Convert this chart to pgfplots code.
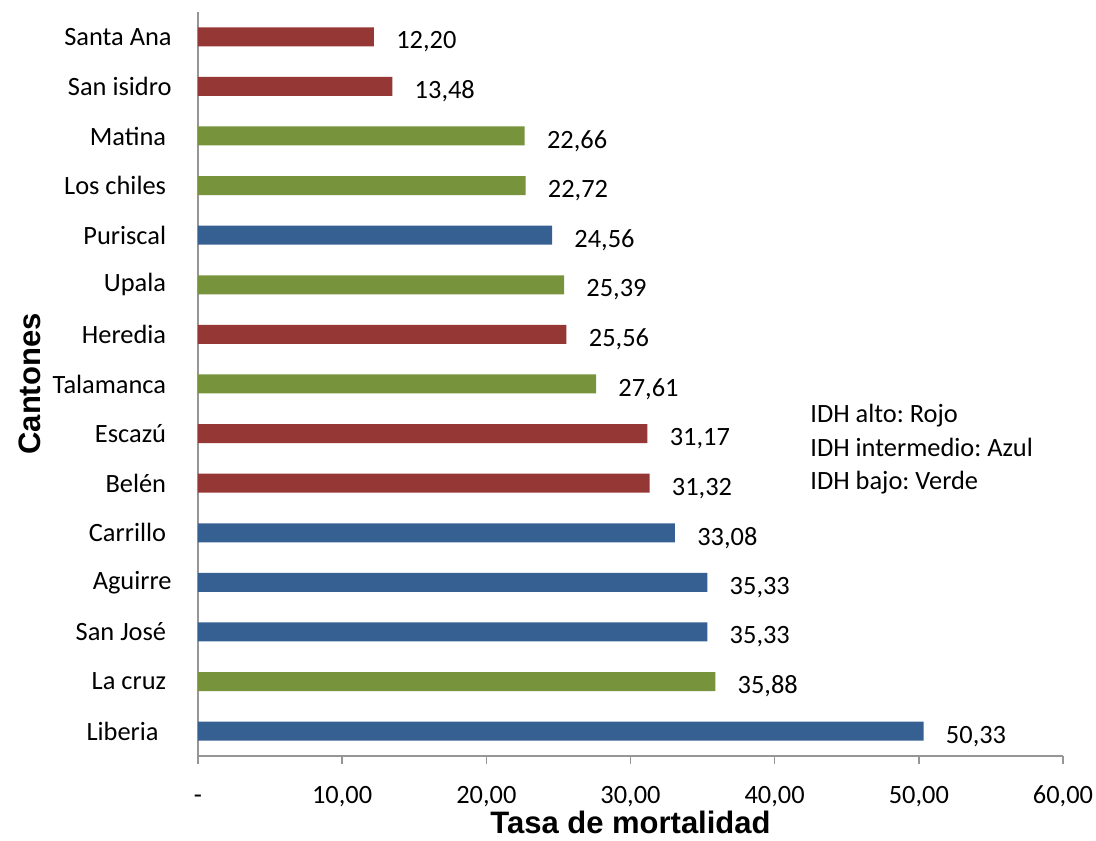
\documentclass[border=0pt]{standalone}
\usepackage{pgfplots}
\pgfplotsset{compat=1.18}
\usepackage{fontspec}
\setmainfont{Carlito}
\newfontfamily\titlefont{Liberation Sans}
\frenchspacing
\definecolor{cred}{RGB}{149,55,53}
\definecolor{cblue}{RGB}{55,96,146}
\definecolor{cgreen}{RGB}{119,147,60}
\definecolor{axgray}{RGB}{150,150,150}
\newcommand{\lab}{\fontsize{13.2pt}{16pt}\selectfont}
\newcommand{\ts}{\kern2.75pt}
\begin{document}
\begin{tikzpicture}
\begin{axis}[
  scale only axis,
  width=432.5pt, height=372pt,
  xmin=0, xmax=60, ymin=-0.5, ymax=14.5,
  xbar, bar width=9.5pt,
  axis x line*=bottom, axis y line*=left,
  axis line style={axgray, line width=0.8pt},
  xtick={0,10,20,30,40,50,60},
  xticklabels={-,{10,00},{20,00},{30,00},{40,00},{50,00},{60,00}},
  x tick style={axgray, line width=0.8pt},
  tick align=outside, major tick length=4pt,
  ytick={0,...,14},
  yticklabels={{Liberia\kern6.5pt},{La cruz\ts},{San José\ts},{Aguirre},{Carrillo\ts},{Belén\ts},{Escazú\ts},{Talamanca\ts},{Heredia\ts},{Upala\ts},{Puriscal\ts},{Los chiles\ts},{Matina\ts},{San isidro},{Santa Ana}},
  y tick style={draw=none},
  ticklabel style={font=\lab},
  xticklabel style={inner sep=0pt, anchor=base, yshift=-20pt},
  yticklabel style={inner sep=0pt, xshift=-9pt},
  xlabel={Tasa de mortalidad}, ylabel={Cantones},
  label style={font=\titlefont\bfseries\fontsize{15.5pt}{18pt}\selectfont},
  xlabel style={at={(axis description cs:0.5,0)}, anchor=center, yshift=-33pt},
  ylabel style={at={(axis description cs:0,0.5)}, anchor=center, yshift=84pt},
  nodes near coords={\pgfmathprintnumber[fixed,fixed zerofill,precision=2,use comma]{\pgfplotspointmeta}},
  nodes near coords style={font=\lab, anchor=west, inner sep=0pt, xshift=11pt, yshift=-2.5pt},
  /pgf/number format/assume math mode=true,
  clip=false,
]
\addplot[draw=none, fill=cblue, bar shift=0pt] coordinates {(50.33,0) (35.33,2) (35.33,3) (33.08,4) (24.56,10)};
\addplot[draw=none, fill=cgreen, bar shift=0pt] coordinates {(35.88,1) (27.61,7) (25.39,9) (22.72,11) (22.66,12)};
\addplot[draw=none, fill=cred, bar shift=0pt] coordinates {(31.32,5) (31.17,6) (25.56,8) (13.48,13) (12.20,14)};
\node[anchor=west, align=left, font=\lab, inner sep=0pt] at (axis cs:42.45,5.68) {IDH alto: Rojo\\[0.8pt]IDH intermedio: Azul\\[0.8pt]IDH bajo: Verde};
\end{axis}
\path ([shift={(-99pt,-41.5pt)}]current axis.south west) -- ([shift={(16.5pt,6pt)}]current axis.north east);
\end{tikzpicture}
\end{document}
